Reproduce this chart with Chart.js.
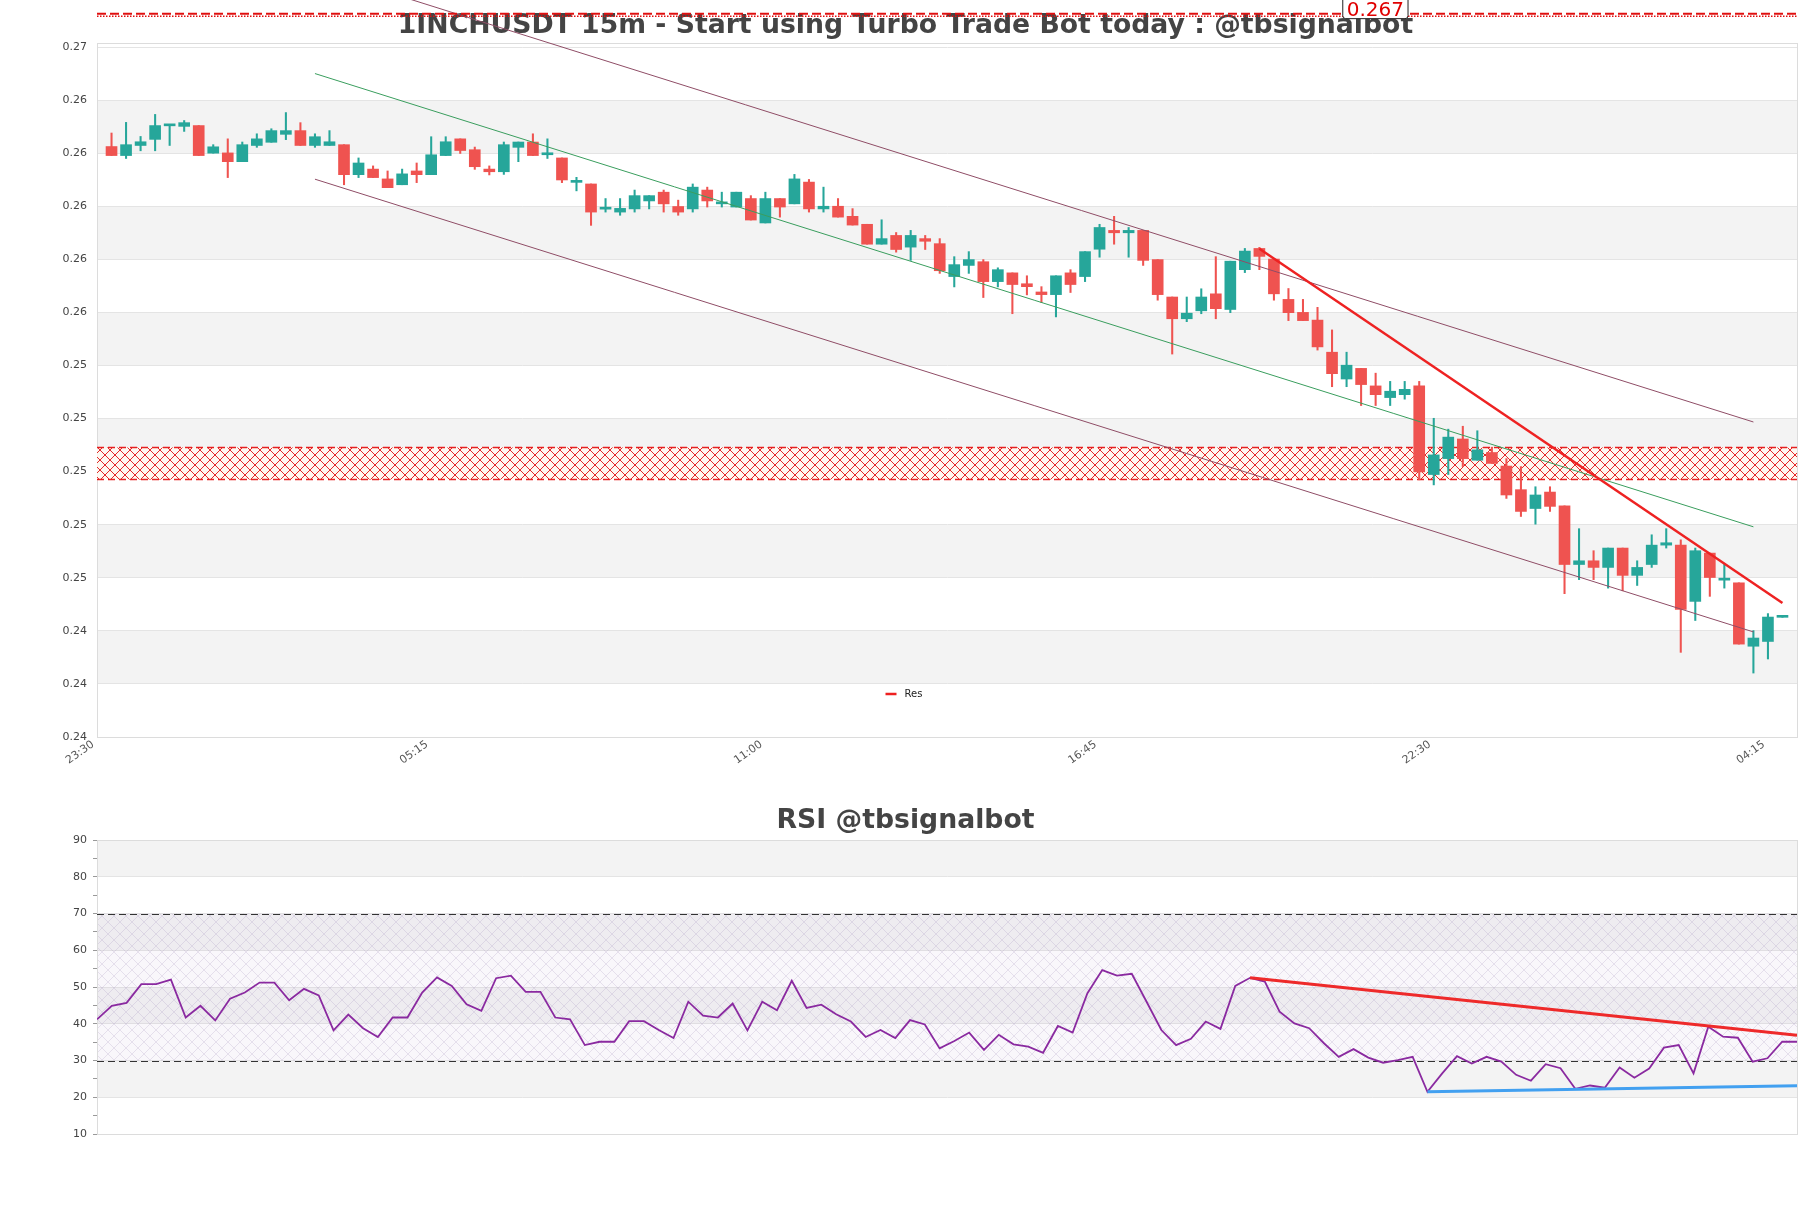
<!DOCTYPE html>
<html><head><meta charset="utf-8">
<script src="https://cdn.jsdelivr.net/npm/chart.js@4.4.1/dist/chart.umd.min.js"></script>
<style>
html,body{margin:0;padding:0;background:#fff;overflow:hidden;}
#wrap{position:relative;width:1811px;height:1208px;background:#fff;}
#mainBox{position:absolute;left:0;top:0;width:1811px;height:790px;}
#rsiBox{position:absolute;left:0;top:790px;width:1811px;height:418px;}
</style></head><body>
<div id="wrap">
<div id="mainBox"><canvas id="main" width="1811" height="790"></canvas></div>
<div id="rsiBox"><canvas id="rsi" width="1811" height="418"></canvas></div>
</div>
<script>
// ---------- DATA ----------
const mainTitle = '1INCHUSDT 15m - Start using Turbo Trade Bot today : @tbsignalbot';
const rsiTitle = 'RSI @tbsignalbot';
const xTickSlots = [0, 23, 46, 69, 92, 115];
const xTickLabels = ['23:30', '05:15', '11:00', '16:45', '22:30', '04:15'];
const priceTicks = [0.240, 0.242, 0.244, 0.246, 0.248, 0.250, 0.252, 0.254, 0.256, 0.258, 0.260, 0.262, 0.264, 0.266];
const rsiTicks = [10, 15, 20, 25, 30, 35, 40, 45, 50, 55, 60, 65, 70, 75, 80, 85, 90];

const candleOpen = [
0.26225,0.26191,0.26229,0.26252,0.26303,0.26301,0.26304,0.26200,0.26201,0.26168,
0.26229,0.26241,0.26271,0.26285,0.26229,0.26229,0.26232,0.26119,0.26140,0.26103,
0.26081,0.26133,0.26119,0.26191,0.26254,0.26213,0.26140,0.26130,0.26222,0.26242,
0.26194,0.26182,0.26090,0.26084,0.25989,0.25978,0.25990,0.26020,0.26053,0.25999,
0.25990,0.26061,0.26009,0.25997,0.26029,0.25937,0.26029,0.26009,0.26091,0.25990,
0.26000,0.25962,0.25932,0.25857,0.25890,0.25846,0.25878,0.25859,0.25735,0.25777,
0.25791,0.25716,0.25749,0.25708,0.25677,0.25667,0.25749,0.25735,0.25838,0.25909,
0.25900,0.25909,0.25799,0.25658,0.25576,0.25606,0.25670,0.25611,0.25761,0.25841,
0.25801,0.25649,0.25600,0.25571,0.25450,0.25349,0.25389,0.25323,0.25279,0.25290,
0.25323,0.24989,0.25049,0.25123,0.25043,0.25072,0.25021,0.24932,0.24861,0.24923,
0.24871,0.24650,0.24664,0.24639,0.24712,0.24609,0.24650,0.24723,0.24723,0.24511,
0.24693,0.24591,0.24581,0.24342,0.24360,0.24451];
const candleHigh = [
0.26276,0.26316,0.26263,0.26346,0.26305,0.26323,0.26304,0.26232,0.26254,0.26242,
0.26273,0.26292,0.26353,0.26315,0.26273,0.26285,0.26232,0.26182,0.26152,0.26133,
0.26140,0.26163,0.26262,0.26262,0.26254,0.26223,0.26152,0.26242,0.26242,0.26273,
0.26254,0.26182,0.26109,0.26084,0.26029,0.26029,0.26061,0.26040,0.26061,0.26023,
0.26084,0.26072,0.26053,0.26053,0.26040,0.26053,0.26029,0.26120,0.26101,0.26072,
0.26029,0.25991,0.25932,0.25949,0.25901,0.25909,0.25890,0.25878,0.25810,0.25829,
0.25799,0.25768,0.25749,0.25738,0.25697,0.25738,0.25761,0.25829,0.25932,0.25962,
0.25920,0.25909,0.25799,0.25658,0.25658,0.25689,0.25810,0.25793,0.25841,0.25845,
0.25801,0.25690,0.25649,0.25619,0.25534,0.25450,0.25389,0.25371,0.25340,0.25340,
0.25340,0.25201,0.25160,0.25171,0.25154,0.25092,0.25049,0.25019,0.24943,0.24943,
0.24871,0.24785,0.24702,0.24712,0.24712,0.24664,0.24762,0.24785,0.24743,0.24712,
0.24693,0.24653,0.24581,0.24401,0.24465,0.24453];
const candleLow = [
0.26191,0.26180,0.26209,0.26209,0.26229,0.26282,0.26191,0.26200,0.26108,0.26168,
0.26222,0.26241,0.26251,0.26229,0.26222,0.26229,0.26081,0.26108,0.26108,0.26070,
0.26081,0.26089,0.26119,0.26191,0.26199,0.26139,0.26118,0.26120,0.26168,0.26191,
0.26180,0.26089,0.26058,0.25928,0.25978,0.25966,0.25978,0.25990,0.25978,0.25966,
0.25978,0.25997,0.25997,0.25997,0.25948,0.25937,0.25959,0.26009,0.25978,0.25978,
0.25959,0.25929,0.25857,0.25857,0.25827,0.25796,0.25837,0.25747,0.25696,0.25747,
0.25656,0.25696,0.25595,0.25666,0.25637,0.25583,0.25675,0.25716,0.25808,0.25857,
0.25808,0.25777,0.25646,0.25443,0.25565,0.25595,0.25576,0.25599,0.25750,0.25761,
0.25646,0.25569,0.25569,0.25458,0.25320,0.25320,0.25249,0.25249,0.25249,0.25273,
0.24969,0.24950,0.24989,0.25019,0.25043,0.25031,0.24899,0.24831,0.24802,0.24850,
0.24540,0.24593,0.24593,0.24561,0.24551,0.24571,0.24639,0.24712,0.24319,0.24439,
0.24530,0.24561,0.24350,0.24241,0.24294,0.24451];
const candleClose = [
0.26191,0.26232,0.26243,0.26304,0.26305,0.26315,0.26191,0.26224,0.26168,0.26232,
0.26254,0.26285,0.26285,0.26229,0.26262,0.26243,0.26119,0.26163,0.26108,0.26070,
0.26122,0.26119,0.26194,0.26243,0.26210,0.26149,0.26130,0.26232,0.26242,0.26191,
0.26196,0.26099,0.26092,0.25978,0.25991,0.25992,0.26040,0.26040,0.26009,0.25978,
0.26072,0.26020,0.26011,0.26053,0.25948,0.26029,0.25997,0.26103,0.25990,0.26000,
0.25959,0.25929,0.25857,0.25878,0.25837,0.25890,0.25868,0.25757,0.25780,0.25799,
0.25716,0.25761,0.25705,0.25697,0.25667,0.25738,0.25705,0.25829,0.25920,0.25900,
0.25909,0.25796,0.25667,0.25576,0.25597,0.25658,0.25614,0.25793,0.25831,0.25811,
0.25670,0.25599,0.25569,0.25470,0.25369,0.25401,0.25328,0.25290,0.25303,0.25310,
0.24999,0.25063,0.25130,0.25049,0.25082,0.25031,0.24912,0.24850,0.24912,0.24869,
0.24650,0.24664,0.24639,0.24712,0.24609,0.24639,0.24723,0.24732,0.24481,0.24702,
0.24601,0.24594,0.24350,0.24373,0.24452,0.24453];

const rsiValues = [
41.2,44.9,45.7,50.8,50.8,52.0,41.7,44.9,40.9,46.8,
48.5,51.2,51.2,46.4,49.5,47.7,38.2,42.5,38.8,36.4,
41.7,41.7,48.5,52.6,50.3,45.3,43.5,52.4,53.1,48.7,
48.7,41.7,41.2,34.2,35.1,35.1,40.7,40.7,38.3,36.1,
46.0,42.2,41.7,45.5,38.2,46.0,43.7,51.7,44.3,45.2,
42.6,40.6,36.4,38.3,36.1,41.0,39.8,33.3,35.3,37.6,
32.9,37.0,34.4,33.8,32.1,39.4,37.6,48.3,54.6,53.1,
53.6,46.0,38.3,34.2,35.9,40.6,38.6,50.3,52.5,51.5,
43.3,40.1,38.8,34.7,31.0,33.1,30.8,29.4,30.1,31.0,
21.5,26.5,31.2,29.2,31.0,29.7,26.1,24.5,29.0,27.9,
22.3,23.2,22.6,28.1,25.3,27.8,33.5,34.2,26.5,39.2,
36.5,36.2,29.7,30.6,35.1,35.1];

// trend lines: [x slot, value] endpoints
const midLinePts   = [[15, 0.26500], [114, 0.24792]];
const upperLinePts = [[15, 0.26893], [114, 0.25187]];
const lowerLinePts = [[15, 0.26102], [114, 0.24396]];
const resLinePts   = [[80, 0.25840], [116, 0.24505]];
const zoneRange = [0.24970, 0.25091];
const topLevel = 0.26722;
const rsiResPts = [[78, 52.5], [115, 36.9]];
const rsiSupPts = [[90, 21.5], [115, 23.1]];
const rsiLevels = [30, 70];

// ---------- STYLE ----------
const UP = '#26a69a', DOWN = '#ef5350';
Chart.defaults.font.family = "'DejaVu Sans', sans-serif";
Chart.defaults.color = '#444';

function hatchTile(size, color, lw, bg) {
  const c = document.createElement('canvas'); c.width = size; c.height = size;
  const g = c.getContext('2d');
  if (bg) { g.fillStyle = bg; g.fillRect(0, 0, size, size); }
  g.strokeStyle = color; g.lineWidth = lw;
  g.beginPath(); g.moveTo(0, 0); g.lineTo(size, size); g.moveTo(size, 0); g.lineTo(0, size); g.stroke();
  return c;
}
const pts = a => a.map(p => ({x: p[0], y: p[1]}));
const colors = candleOpen.map((o, i) => candleClose[i] >= o ? UP : DOWN);
const bodies = candleOpen.map((o, i) => ({x: i + 1, y: [o, candleClose[i]]}));
const wicks = candleOpen.map((o, i) => ({x: i + 1, y: [candleLow[i], candleHigh[i]]}));

function drawBands(chart, isRsi) {
  const {ctx, chartArea: a, scales: {y}} = chart;
  ctx.save();
  ctx.fillStyle = '#f3f3f3';
  if (!isRsi) {
    for (let k = 0; k < priceTicks.length - 1; k++) {
      if (k % 2 === 1) {
        const y1 = y.getPixelForValue(priceTicks[k + 1]), y0 = y.getPixelForValue(priceTicks[k]);
        ctx.fillRect(a.left, y1, a.right - a.left, y0 - y1);
      }
    }
  } else {
    for (let v = 10; v < 90; v += 10) {
      if (((v - 10) / 10) % 2 === 1) {
        const y1 = y.getPixelForValue(v + 10), y0 = y.getPixelForValue(v);
        ctx.fillRect(a.left, y1, a.right - a.left, y0 - y1);
      }
    }
  }
  ctx.restore();
}
function drawBox(chart) {
  const {ctx, chartArea: a} = chart;
  ctx.save(); ctx.strokeStyle = '#dcdcdc'; ctx.lineWidth = 1;
  ctx.strokeRect(Math.round(a.left) + 0.5, Math.round(a.top) + 0.5, Math.round(a.right - a.left), Math.round(a.bottom - a.top));
  ctx.restore();
}
const rightSpacer = {type: 'linear', position: 'right', display: true, grid: {display: false},
  border: {display: false}, ticks: {display: false}, afterFit: s => { s.width = 14; }};

const mainPlugin = {
  id: 'mainDeco',
  beforeDraw(chart) { drawBands(chart, false); },
  beforeDatasetsDraw(chart) {
    const {ctx, chartArea: a, scales: {y}} = chart;
    drawBox(chart);
    const yt = y.getPixelForValue(zoneRange[1]), yb = y.getPixelForValue(zoneRange[0]);
    ctx.save();
    ctx.fillStyle = 'rgba(255,248,240,0.85)';
    ctx.fillRect(a.left, yt, a.right - a.left, yb - yt);
    ctx.fillStyle = ctx.createPattern(hatchTile(10, 'rgba(228,30,30,0.95)', 1, null), 'repeat');
    ctx.fillRect(a.left, yt, a.right - a.left, yb - yt);
    ctx.strokeStyle = '#e52020'; ctx.lineWidth = 1.5; ctx.setLineDash([7, 4]);
    ctx.beginPath(); ctx.moveTo(a.left, yt); ctx.lineTo(a.right, yt); ctx.moveTo(a.left, yb); ctx.lineTo(a.right, yb); ctx.stroke();
    ctx.restore();
  },
  afterDatasetsDraw(chart) {
    const {ctx, chartArea: a, scales: {y}} = chart;
    const yl = y.getPixelForValue(topLevel);
    ctx.save();
    ctx.strokeStyle = '#e01010'; ctx.lineWidth = 2; ctx.setLineDash([9, 4]);
    ctx.beginPath(); ctx.moveTo(a.left, yl - 1); ctx.lineTo(a.right, yl - 1); ctx.stroke();
    ctx.lineWidth = 1.5; ctx.setLineDash([1.5, 1.5]);
    ctx.beginPath(); ctx.moveTo(a.left, yl + 1.5); ctx.lineTo(a.right, yl + 1.5); ctx.stroke();
    ctx.setLineDash([]);
    // value label box
    const cx = a.left + 0.752 * (a.right - a.left);
    ctx.font = "20px 'DejaVu Sans'";
    const txt = topLevel.toFixed(3);
    const w = ctx.measureText(txt).width + 8;
    ctx.fillStyle = '#fff'; ctx.strokeStyle = '#222'; ctx.lineWidth = 1;
    ctx.beginPath(); ctx.roundRect(cx - w / 2, yl - 28, w, 32, 3); ctx.fill(); ctx.stroke();
    ctx.fillStyle = '#e00000'; ctx.textAlign = 'center'; ctx.textBaseline = 'alphabetic';
    ctx.fillText(txt, cx, yl + 1);
    ctx.restore();
  },
  afterDraw(chart) {
    const {ctx, chartArea: a} = chart;
    const cy = a.bottom - 43, cx = chart.width / 2;
    ctx.save();
    ctx.strokeStyle = '#ee2020'; ctx.lineWidth = 2.5;
    ctx.beginPath(); ctx.moveTo(cx - 20, cy); ctx.lineTo(cx - 9, cy); ctx.stroke();
    ctx.fillStyle = '#222'; ctx.font = "10px 'DejaVu Sans'"; ctx.textBaseline = 'middle'; ctx.textAlign = 'left';
    ctx.fillText('Res', cx - 1, cy);
    ctx.restore();
  }
};

new Chart(document.getElementById('main'), {
  type: 'bar',
  data: { datasets: [
    {type: 'line', label: 'Res', data: pts(resLinePts), borderColor: '#ee2222', borderWidth: 2.5, pointRadius: 0, order: 0, clip: false},
    {type: 'line', label: 'mid', data: pts(midLinePts), borderColor: '#3a9e5e', borderWidth: 1, pointRadius: 0, order: 1, clip: false},
    {type: 'line', label: 'upper', data: pts(upperLinePts), borderColor: '#8f4d66', borderWidth: 1, pointRadius: 0, order: 1, clip: false},
    {type: 'line', label: 'lower', data: pts(lowerLinePts), borderColor: '#8f4d66', borderWidth: 1, pointRadius: 0, order: 1, clip: false},
    {label: 'body', data: bodies, backgroundColor: colors, barThickness: 11, grouped: false, minBarLength: 2, order: 2},
    {label: 'wick', data: wicks, backgroundColor: colors, barThickness: 1.4, grouped: false, order: 3}
  ]},
  options: {
    responsive: false, animation: false, events: [],
    layout: {padding: 0},
    plugins: {
      legend: {display: false}, tooltip: {enabled: false},
      title: {display: true, text: mainTitle, color: '#444', font: {size: 26.7, weight: 'bold'}, padding: {top: 10, bottom: 1}}
    },
    scales: {
      x: {type: 'linear', min: 0, max: 117, offset: false,
        grid: {display: false}, border: {display: true, color: '#dcdcdc'},
        afterBuildTicks: s => { s.ticks = xTickSlots.map(v => ({value: v})); },
        afterFit: s => { s.height = 53; },
        ticks: {autoSkip: false, minRotation: 35, maxRotation: 35, padding: -7, labelOffset: -4, color: '#555', font: {size: 11},
          callback: (v, i) => xTickLabels[i]}},
      y: {type: 'linear', min: 0.240, max: 0.26615,
        grid: {color: '#e4e4e4', drawTicks: false}, border: {display: true, color: '#dcdcdc'},
        afterBuildTicks: s => { s.ticks = priceTicks.map(v => ({value: v})); },
        afterFit: s => { s.width = 97; },
        ticks: {padding: 10, color: '#444', font: {size: 11}, callback: v => Number(v).toFixed(2)}},
      yRight: rightSpacer
    }
  },
  plugins: [mainPlugin]
});

const rsiPlugin = {
  id: 'rsiDeco',
  beforeDraw(chart) { drawBands(chart, true); },
  beforeDatasetsDraw(chart) {
    const {ctx, chartArea: a, scales: {y}} = chart;
    const y70 = y.getPixelForValue(rsiLevels[1]), y30 = y.getPixelForValue(rsiLevels[0]);
    ctx.save();
    ctx.fillStyle = 'rgba(200,180,215,0.10)';
    ctx.fillRect(a.left, y70, a.right - a.left, y30 - y70);
    ctx.fillStyle = ctx.createPattern(hatchTile(12, 'rgba(175,155,195,0.35)', 0.8, null), 'repeat');
    ctx.fillRect(a.left, y70, a.right - a.left, y30 - y70);
    ctx.restore();
    drawBox(chart);
    ctx.save();
    ctx.strokeStyle = '#333'; ctx.lineWidth = 1; ctx.setLineDash([7, 4]);
    ctx.beginPath(); ctx.moveTo(a.left, Math.round(y70) + 0.5); ctx.lineTo(a.right, Math.round(y70) + 0.5);
    ctx.moveTo(a.left, Math.round(y30) + 0.5); ctx.lineTo(a.right, Math.round(y30) + 0.5); ctx.stroke();
    ctx.restore();
  }
};

new Chart(document.getElementById('rsi'), {
  type: 'line',
  data: { datasets: [
    {label: 'RSI', data: rsiValues.map((v, i) => ({x: i, y: v})), borderColor: '#8a2aa0', borderWidth: 1.8, pointRadius: 0, tension: 0, order: 2},
    {label: 'rsiRes', data: pts(rsiResPts), borderColor: '#ee2a2a', borderWidth: 3, pointRadius: 0, order: 1},
    {label: 'rsiSup', data: pts(rsiSupPts), borderColor: '#42a0f0', borderWidth: 3, pointRadius: 0, order: 1}
  ]},
  options: {
    responsive: false, animation: false, events: [],
    layout: {padding: 0},
    plugins: {
      legend: {display: false}, tooltip: {enabled: false},
      title: {display: true, text: rsiTitle, color: '#444', font: {size: 26.7, weight: 'bold'}, padding: {top: 15, bottom: 3}}
    },
    scales: {
      x: {type: 'linear', min: 0, max: 115, grid: {display: false}, border: {display: true, color: '#dcdcdc'},
        ticks: {display: false}, afterFit: s => { s.height = 74; }},
      y: {type: 'linear', min: 10, max: 90,
        grid: {color: c => (c.tick && c.tick.value % 10 === 0) ? '#e4e4e4' : 'rgba(0,0,0,0)', tickColor: '#999', tickLength: 4, drawTicks: true},
        border: {display: true, color: '#dcdcdc'},
        afterBuildTicks: s => { s.ticks = rsiTicks.map(v => ({value: v})); },
        afterFit: s => { s.width = 97; },
        ticks: {padding: 6, color: '#444', font: {size: 11}, callback: v => (v % 10 === 0 ? String(v) : '')}},
      yRight: rightSpacer
    }
  },
  plugins: [rsiPlugin]
});
</script>
</body></html>
